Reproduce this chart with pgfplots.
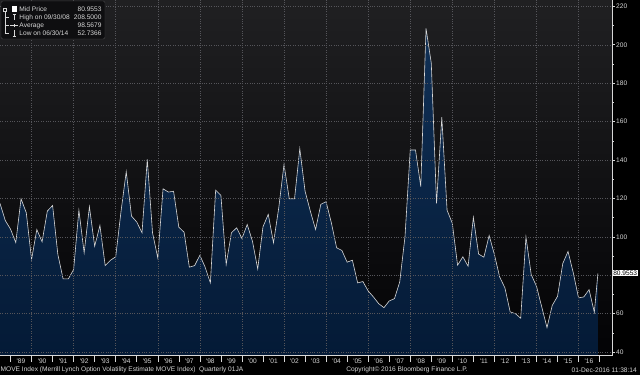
\documentclass[border=0pt]{standalone}
\usepackage{fontspec}
\setmainfont{Liberation Sans}
\usepackage{pgfplots}
\usepackage{pgfplotstable}
\pgfplotsset{compat=1.18}
\definecolor{bgtop}{RGB}{32,32,34}
\definecolor{bgbot}{RGB}{3,3,5}
\definecolor{filltop}{RGB}{16,48,86}
\definecolor{fillbot}{RGB}{4,26,54}
\definecolor{linec}{RGB}{215,215,215}
\definecolor{gridc}{RGB}{85,85,90}
\definecolor{txt}{RGB}{215,215,215}
\definecolor{legbg}{RGB}{14,14,16}
\definecolor{legbd}{RGB}{70,70,72}

\pgfplotstableread{
t v
1988.50 117.4
1988.75 108.5
1989.00 104.0
1989.25 97.0
1989.50 119.8
1989.75 112.5
1990.00 88.2
1990.25 103.8
1990.50 97.4
1990.75 113.4
1991.00 116.3
1991.25 90.8
1991.50 78.1
1991.75 78.1
1992.00 83.0
1992.25 113.9
1992.50 91.7
1992.75 115.7
1993.00 95.1
1993.25 105.9
1993.50 85.0
1993.75 87.8
1994.00 89.6
1994.25 113.0
1994.50 133.9
1994.75 110.8
1995.00 107.7
1995.25 102.1
1995.50 140.3
1995.75 102.1
1996.00 89.0
1996.25 125.0
1996.50 123.3
1996.75 123.7
1997.00 105.0
1997.25 102.4
1997.50 84.2
1997.75 85.0
1998.00 90.4
1998.25 84.2
1998.50 76.0
1998.75 124.3
1999.00 121.6
1999.25 85.6
1999.50 102.1
1999.75 104.7
2000.00 99.1
2000.25 106.4
2000.50 97.7
2000.75 83.3
2001.00 105.2
2001.25 111.7
2001.50 96.9
2001.75 115.1
2002.00 137.7
2002.25 119.8
2002.50 119.8
2002.75 145.9
2003.00 123.8
2003.25 113.4
2003.50 103.8
2003.75 116.9
2004.00 118.3
2004.25 107.3
2004.50 94.3
2004.75 92.9
2005.00 86.8
2005.25 87.8
2005.50 76.0
2005.75 76.7
2006.00 71.8
2006.25 68.7
2006.50 65.2
2006.75 63.1
2007.00 66.6
2007.25 67.8
2007.50 76.5
2007.75 100.0
2008.00 145.2
2008.25 145.2
2008.50 126.1
2008.75 208.5
2009.00 190.4
2009.25 117.4
2009.50 162.3
2009.75 113.9
2010.00 107.0
2010.25 85.2
2010.50 89.6
2010.75 84.7
2011.00 110.1
2011.25 91.0
2011.50 89.4
2011.75 100.7
2012.00 90.8
2012.25 79.1
2012.50 73.4
2012.75 60.9
2013.00 60.0
2013.25 57.6
2013.50 100.0
2013.75 80.3
2014.00 74.3
2014.25 63.5
2014.50 52.74
2014.75 64.3
2015.00 69.0
2015.25 86.1
2015.50 92.4
2015.75 81.2
2016.00 68.2
2016.25 68.7
2016.50 72.5
2016.75 60.7
2016.92 80.9553
}\movedata

\begin{document}
\begin{tikzpicture}[font=\fontsize{6.6pt}{7.2pt}\selectfont, x=1pt, y=1pt]
\useasboundingbox (0,0) rectangle (640,375);
\fill[black] (0,0) rectangle (640,375);
\begin{axis}[
  at={(0pt,19.5pt)}, anchor=south west, scale only axis,
  width=612pt, height=355.5pt,
  xmin=1988.5, xmax=2017.59, ymin=38.2, ymax=223.3,
  axis background/.style={top color=bgtop, bottom color=bgbot},
  axis x line*=bottom, axis y line*=right,
  axis line style={draw=linec, line width=0.5pt},
  axis on top=true,
  tick align=outside,
  major tick length=3pt, minor tick length=1.5pt,
  tick style={draw=linec, line width=0.5pt},
  xtick={1989,...,2016},
  xticklabels={\textquotesingle 89,\textquotesingle 90,\textquotesingle 91,\textquotesingle 92,\textquotesingle 93,\textquotesingle 94,\textquotesingle 95,\textquotesingle 96,\textquotesingle 97,\textquotesingle 98,\textquotesingle 99,\textquotesingle 00,\textquotesingle 01,\textquotesingle 02,\textquotesingle 03,\textquotesingle 04,\textquotesingle 05,\textquotesingle 06,\textquotesingle 07,\textquotesingle 08,\textquotesingle 09,\textquotesingle 10,\textquotesingle 11,\textquotesingle 12,\textquotesingle 13,\textquotesingle 14,\textquotesingle 15,\textquotesingle 16},
  xticklabel style={text=txt, xshift=10.52pt, inner sep=0.5pt, anchor=north},
  minor xtick={1990,1992,...,2016},
  extra x ticks={1989,...,2017}, extra x tick labels={},
  extra x tick style={major tick length=6.5pt, grid=none},
  xminorgrids=true, ymajorgrids=true, xmajorgrids=false,
  grid style={draw=gridc, line width=0.45pt, dash pattern=on 0.8pt off 1.6pt},
  minor grid style={draw=gridc, line width=0.45pt, dash pattern=on 0.8pt off 1.6pt},
  ytick={40,60,...,220},
  yticklabels={40,60,,100,120,140,160,180,200,220},
  minor y tick num=1,
  yticklabel style={text=txt, anchor=west, inner sep=1pt},
  extra y ticks={80.9553}, extra y tick labels={80.9553},
  extra y tick style={grid=none, yticklabel style={fill=white, text=black, inner sep=0.6pt, anchor=west, xshift=-2.5pt}},
]
\addplot[draw=none, top color=filltop, bottom color=fillbot] table[x=t, y=v] {\movedata} \closedcycle;
\addplot[linec, line width=0.6pt, mark=none] table[x=t, y=v] {\movedata};
\end{axis}
% legend box
\filldraw[fill=legbg, draw=legbd, line width=0.4pt, rounded corners=1.5pt] (1,336) rectangle (105,374);
\begin{scope}[draw=txt, line width=0.4pt]
\fill[white] (11.7,363.3) rectangle (16.7,369);
\draw (2.8,363.4) rectangle (6.6,366.6);
\draw (4.7,363.4) -- (4.7,341.7);
\draw (4.7,357.7) -- (8.5,357.7);
\draw (4.7,349.3) -- (8.5,349.3);
\draw (4.7,341.7) -- (8.5,341.7);
\draw (12.6,360.5) -- (15.6,360.5); \draw (14.1,360.5) -- (14.1,355);
\draw (10,349.3) -- (18,349.3); \draw (14.1,347.6) -- (14.1,351);
\draw (14.1,344.5) -- (14.1,339); \draw (12.6,339) -- (15.6,339);
\end{scope}
\begin{scope}[every node/.style={text=txt, inner sep=0pt}]
\node[anchor=west] at (19.3,365.7) {Mid Price};
\node[anchor=west] at (19.3,357.7) {High on 09/30/08};
\node[anchor=west] at (19.3,349.3) {Average};
\node[anchor=west] at (19.3,341.7) {Low on 06/30/14};
\node[anchor=east] at (101.7,365.7) {80.9553};
\node[anchor=east] at (101.7,357.7) {208.5000};
\node[anchor=east] at (101.7,349.3) {98.5679};
\node[anchor=east] at (101.7,341.7) {52.7366};
\node[anchor=west] at (0.5,5) {MOVE Index (Merrill Lynch Option Volatility Estimate MOVE Index)\ \ Quarterly 01JA};
\node at (407,5) {Copyright\textcopyright{} 2016 Bloomberg Finance L.P.};
\node[anchor=east] at (637,5) {01-Dec-2016 11:38:14};
\end{scope}
\end{tikzpicture}
\end{document}
